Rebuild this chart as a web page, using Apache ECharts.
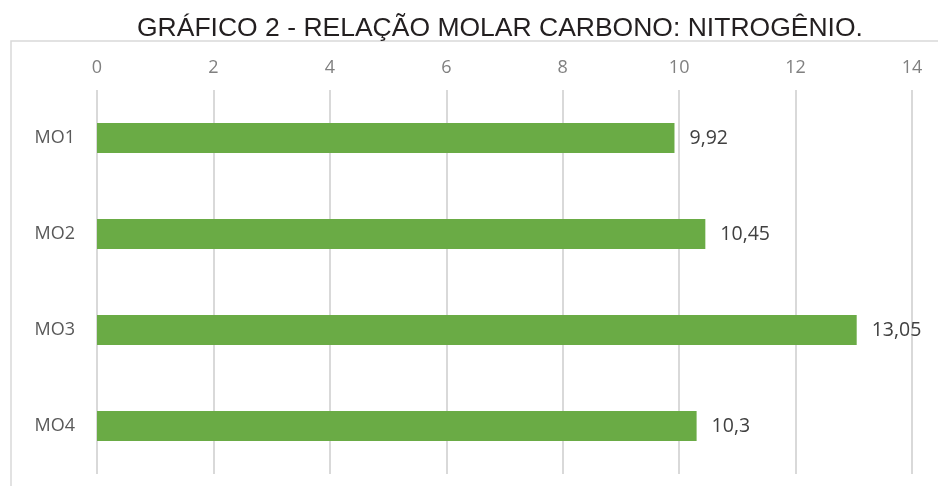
<!DOCTYPE html>
<html>
<head>
<meta charset="utf-8">
<script src="https://cdn.jsdelivr.net/npm/echarts@6/dist/echarts.min.js"></script>
<style>
  html, body { margin: 0; padding: 0; background: #fff; }
  #chart { width: 938px; height: 486px; }
</style>
</head>
<body>
<div id="chart"></div>
<script>
// Carbon:nitrogen molar ratio per sample
const categories = ['MO1', 'MO2', 'MO3', 'MO4'];
const ratios = [9.92, 10.45, 13.05, 10.3];
const valueLabels = ['9,92', '10,45', '13,05', '10,3'];

const chart = echarts.init(document.getElementById('chart'));

chart.setOption({
  animation: false,
  backgroundColor: '#ffffff',
  title: {
    text: 'GRÁFICO 2 - RELAÇÃO MOLAR CARBONO: NITROGÊNIO.',
    left: 132,
    top: 10,
    textStyle: {
      fontFamily: 'Liberation Sans',
      fontWeight: 'normal',
      fontSize: 26.5,
      color: '#231f20'
    }
  },
  graphic: [{
    type: 'rect',
    silent: true,
    shape: { x: 11, y: 41, width: 1000, height: 600 },
    style: { fill: 'none', stroke: '#d9d9d9', lineWidth: 1.5 }
  }],
  grid: { left: 97, right: 26, top: 90, bottom: 12, containLabel: false },
  xAxis: {
    type: 'value',
    position: 'top',
    min: 0,
    max: 14,
    interval: 2,
    axisLine: { show: false },
    axisTick: { show: false },
    axisLabel: {
      margin: 13,
      fontFamily: 'Open Sans',
      fontSize: 18,
      color: '#808080'
    },
    splitLine: { show: true, lineStyle: { color: '#d9d9d9', width: 2 } }
  },
  yAxis: {
    type: 'category',
    data: categories,
    inverse: true,
    axisLine: { show: false },
    axisTick: { show: false },
    axisLabel: {
      margin: 22,
      fontFamily: 'Open Sans',
      fontSize: 18,
      color: '#595959'
    }
  },
  series: [{
    type: 'bar',
    data: ratios,
    barWidth: 30,
    itemStyle: { color: '#6aab45' },
    label: {
      show: true,
      position: 'right',
      distance: 15,
      fontFamily: 'Open Sans',
      fontSize: 19.5,
      color: '#404040',
      formatter: p => valueLabels[p.dataIndex]
    }
  }]
});
</script>
</body>
</html>
